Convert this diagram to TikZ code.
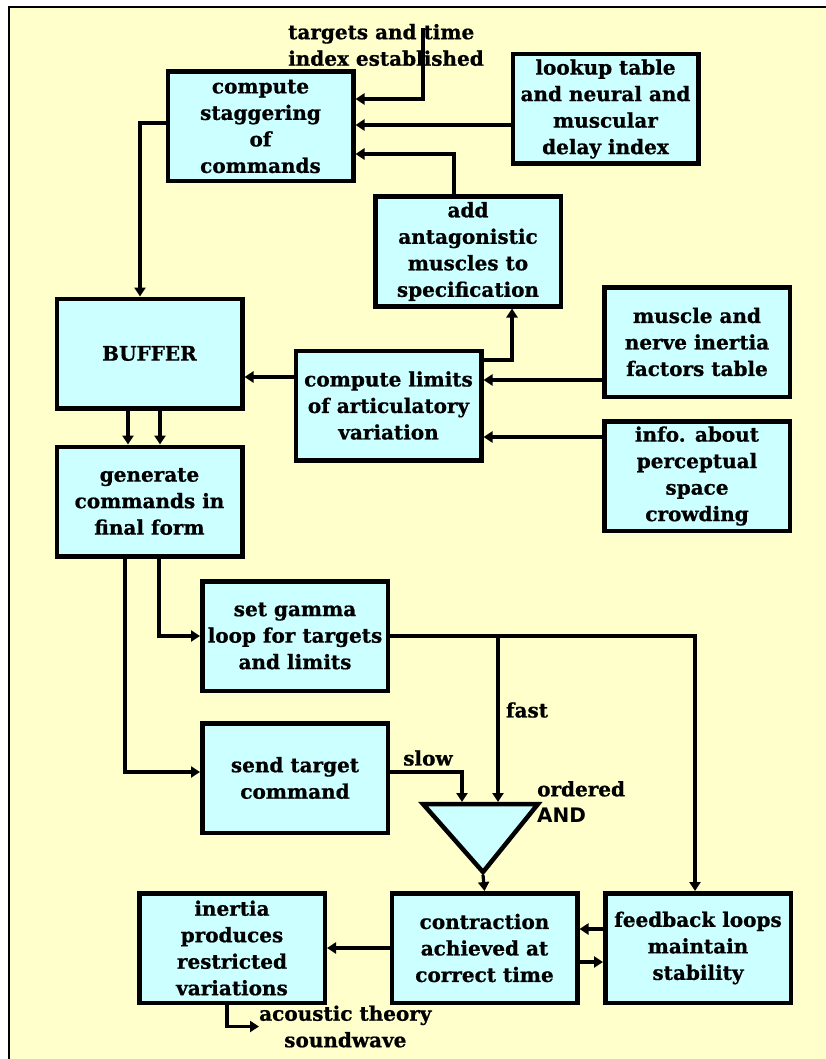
\documentclass[tikz,border=0pt]{standalone}
\usepackage{fontspec}
\setmainfont{DejaVu Serif}[BoldFeatures={FakeBold=0.8}]
\newfontfamily\gatefont{DejaVu Sans}
\usetikzlibrary{arrows.meta}
\definecolor{paper}{HTML}{FFFFCC}
\definecolor{boxfill}{HTML}{CCFFFF}
\newcommand\labelfont{\bfseries\fontsize{20}{26.5}\selectfont}
\tikzset{
  box/.style={draw, line width=4.5pt, fill=boxfill, minimum width=185.5pt,
    minimum height=109.5pt, align=center, inner sep=2pt, font=\labelfont},
  link/.style={line width=3.2pt, -{Triangle[length=9pt,width=11pt]}},
  tag/.style={inner sep=0pt, font=\labelfont},
}
\begin{document}
\begin{tikzpicture}[x=1pt,y=-1pt]
\useasboundingbox (0,0) rectangle (826,1059);
% sheet with its top and left rule
\fill[white] (0,0) rectangle (826,1059);
\fill[paper] (9,7) rectangle (826,1059);
\draw[line width=2pt] (9,1059) -- (9,7) -- (826,7);

% process boxes
\node[box] (stagger) at (260.5,126.5) {compute\\staggering\\of\\commands};
\node[box] (lookup)  at (605.5,109)   {lookup table\\and neural and\\muscular\\delay index};
\node[box] (add)     at (468,251.5)   {add\\antagonistic\\muscles to\\specification};
\node[box] (buffer)  at (149.5,353.5) {BUFFER};
\node[box] (muscle)  at (697,342)     {muscle and\\nerve inertia\\factors table};
\node[box] (limits)  at (388.5,405.5) {compute limits\\of articulatory\\variation};
\node[box] (info)    at (697,476)     {info. about\\perceptual\\space\\crowding};
\node[box] (generate) at (149.5,501.5) {generate\\commands in\\final form};
\node[box] (gamma)   at (295,636)     {set gamma\\loop for targets\\and limits};
\node[box] (send)    at (295,778)     {send target\\command};
\node[box] (inertia) at (232,948)     {inertia\\produces\\restricted\\variations};
\node[box] (contract) at (484.5,948)  {contraction\\achieved at\\correct time};
\node[box] (feedback) at (698,948)    {feedback loops\\maintain\\stability};

% ordered AND gate
\draw[line width=4.5pt, fill=boxfill, line join=miter]
  (423,804) -- (538,804) -- (483,872) -- cycle;
\coordinate (gslow) at (462,802);
\coordinate (gfast) at (498,802);
\coordinate (gapex) at (483,875);

% free labels
\node[tag, align=left, anchor=west] (targets) at (288,45) {targets and time\\index established};
\coordinate (tgt) at (423,28);
\node[tag] (fast) at (527,710) {fast};
\node[tag] (slow) at (428,758) {slow};
\node[tag, align=left, anchor=west] (ordered) at (537,802)
  {ordered\\{\gatefont AND}};
\node[tag, align=center, anchor=west] (acoustic) at (259,1026.5)
  {acoustic theory\\soundwave};

% connectors
\draw[link] (tgt) |- ([yshift=27.5pt]stagger.east);
\draw[link] ([yshift=-16pt]lookup.west) -- ([yshift=1.5pt]stagger.east);
\draw[link] ([xshift=-14pt]add.north) |- ([yshift=-27.5pt]stagger.east);
\draw[link] ([yshift=3.5pt]stagger.west) -| ([xshift=-9.5pt]buffer.north);
\draw[link] ([yshift=28.5pt]limits.west) -- ([yshift=-23.5pt]buffer.east);
\draw[link] ([yshift=45.5pt]limits.east) -| ([xshift=44pt]add.south);
\draw[link] ([yshift=-38pt]muscle.west) -- ([yshift=25.5pt]limits.east);
\draw[link] ([yshift=39pt]info.west) -- ([yshift=-31.5pt]limits.east);
\draw[link] ([xshift=-21.5pt]buffer.south) -- ([xshift=-21.5pt]generate.north);
\draw[link] ([xshift=10.5pt]buffer.south) -- ([xshift=10.5pt]generate.north);
\draw[link] ([xshift=9.5pt]generate.south) |- (gamma.west);
\draw[link] ([xshift=-24.5pt]generate.south) |- ([yshift=6pt]send.west);
\draw[link] (gamma.east) -| (gfast);
\draw[link] (gamma.east) -| ([xshift=-3pt]feedback.north);
\draw[link] ([yshift=6pt]send.east) -| (gslow);
\draw[link] (gapex) -- (contract.north);
\draw[link] (contract.west) -- (inertia.east);
\draw[link] ([yshift=19pt]feedback.west) -- ([yshift=19pt]contract.east);
\draw[link] ([yshift=-14pt]contract.east) -- ([yshift=-14pt]feedback.west);
\draw[link] ([xshift=-5pt]inertia.south) |- (acoustic.west);
\end{tikzpicture}
\end{document}
